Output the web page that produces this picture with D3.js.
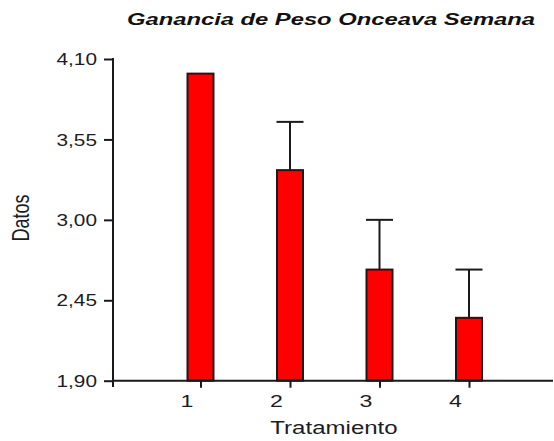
<!DOCTYPE html>
<html>
<head>
<meta charset="utf-8">
<script src="https://cdn.jsdelivr.net/npm/d3@7"></script>
<style>
  body { margin: 0; background: #fff; }
  text { font-family: "Liberation Sans", Arial, sans-serif; fill: #1c1c24; }
</style>
</head>
<body>
<div id="chart"></div>
<script>
// chart data
var tratamientos = [1, 2, 3, 4];
var medias = [4.00, 3.34, 2.66, 2.33];
var errores = [0, 0.33, 0.34, 0.33];
var yTicks = [1.90, 2.45, 3.00, 3.55, 4.10];
var titulo = "Ganancia de Peso Onceava Semana";

var W = 554, H = 441;
var sx = 1.3; // the picture is stretched horizontally

var svg = d3.select("#chart").append("svg")
    .attr("width", W)
    .attr("height", H);

// scales
var x = d3.scaleLinear().domain([1, 4]).range([200.5, 469]);
var y = d3.scaleLinear().domain([1.90, 4.10]).range([380.7, 59]);
var barW = 26;

// bars
svg.selectAll(".bar")
    .data(tratamientos)
  .enter().append("rect")
    .attr("x", function(d) { return x(d) - barW / 2; })
    .attr("y", function(d, i) { return y(medias[i]); })
    .attr("width", barW)
    .attr("height", function(d, i) { return y(1.90) - y(medias[i]); })
    .style("fill", "#ff0000")
    .style("stroke", "#1a1a1a")
    .style("stroke-width", 2);

// error bars (upper only)
var eb = svg.selectAll(".err")
    .data(tratamientos.filter(function(d, i) { return errores[i] > 0; }))
  .enter().append("g");
eb.append("line")
    .attr("x1", function(d) { return x(d); })
    .attr("x2", function(d) { return x(d); })
    .attr("y1", function(d) { return y(medias[d - 1]); })
    .attr("y2", function(d) { return y(medias[d - 1] + errores[d - 1]); })
    .style("stroke", "#1a1a1a").style("stroke-width", 2);
eb.append("line")
    .attr("x1", function(d) { return x(d) - 13.5; })
    .attr("x2", function(d) { return x(d) + 13.5; })
    .attr("y1", function(d) { return y(medias[d - 1] + errores[d - 1]); })
    .attr("y2", function(d) { return y(medias[d - 1] + errores[d - 1]); })
    .style("stroke", "#1a1a1a").style("stroke-width", 2);

// x axis
var xAxis = svg.append("g")
    .attr("transform", "translate(0," + y(1.90) + ")")
    .call(d3.axisBottom(x).tickValues(tratamientos).tickSize(7).tickFormat(d3.format("d")));
xAxis.select(".domain").remove();
xAxis.append("line")
    .attr("x1", 113).attr("x2", 553)
    .style("stroke", "#1a1a1a").style("stroke-width", 2);
xAxis.selectAll(".tick line").style("stroke", "#1a1a1a").style("stroke-width", 2);
// labels sit a little left of their ticks in the original
xAxis.selectAll(".tick text")
    .attr("y", 0).attr("dy", 0)
    .attr("transform", "translate(-14,26) scale(1.4,1)")
    .style("font-size", "16.5px");

// y axis
var yAxis = svg.append("g")
    .attr("transform", "translate(113,0)")
    .call(d3.axisLeft(y).tickValues(yTicks).tickSize(9)
        .tickFormat(function(d) { return d3.format(".2f")(d).replace(".", ","); }));
yAxis.select(".domain").remove();
yAxis.append("line")
    .attr("y1", 58).attr("y2", 387)
    .style("stroke", "#1a1a1a").style("stroke-width", 2);
yAxis.selectAll(".tick line").style("stroke", "#1a1a1a").style("stroke-width", 2);
yAxis.selectAll(".tick text")
    .attr("x", 0).attr("dy", "0.35em")
    .attr("transform", "translate(-16,0) scale(" + sx + ",1)")
    .style("font-size", "16px");

// axis titles
svg.append("text")
    .attr("transform", "translate(334,434) scale(" + sx + ",1)")
    .attr("text-anchor", "middle")
    .style("font-size", "18.5px")
    .text("Tratamiento");

svg.append("text")
    .attr("transform", "translate(29,218) rotate(-90) scale(1," + sx + ")")
    .attr("text-anchor", "middle")
    .style("font-size", "18px")
    .text("Datos");

// title
svg.append("text")
    .attr("x", 331).attr("y", 25)
    .attr("text-anchor", "middle")
    .attr("textLength", 408)
    .attr("lengthAdjust", "spacingAndGlyphs")
    .style("font-size", "16.5px")
    .style("font-weight", "bold")
    .style("font-style", "italic")
    .style("fill", "#111")
    .text(titulo);
</script>
</body>
</html>
